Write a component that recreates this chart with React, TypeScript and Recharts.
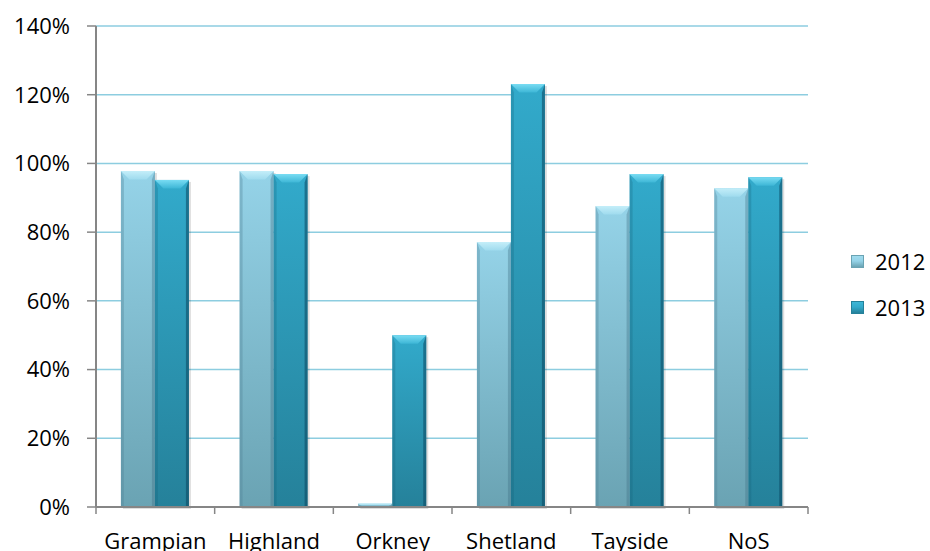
import {Bar, BarChart, CartesianGrid, XAxis, YAxis} from 'recharts';

const regions = ['Grampian', 'Highland', 'Orkney', 'Shetland', 'Tayside', 'NoS'];
const values2012 = [97.8, 97.8, 1, 77.1, 87.6, 92.8];
const values2013 = [95.2, 96.9, 50, 123.1, 96.9, 96];
const percentTicks = [0, 20, 40, 60, 80, 100, 120, 140];

const chartData = regions.map((name, i) => ({
  name,
  y2012: values2012[i],
  y2013: values2013[i],
}));

const palette = {
  y2012: {
    label: '2012',
    top: '#95d3e8',
    bottom: '#6aa3b3',
    bevelTop: '#c4eef9',
    bevelBottom: '#9fdbee',
    edgeLeft: 'rgba(80,130,150,0.35)',
    edgeRight: 'rgba(60,110,130,0.35)',
  },
  y2013: {
    label: '2013',
    top: '#32aacb',
    bottom: '#25819a',
    bevelTop: '#79dcf3',
    bevelBottom: '#3db6d6',
    edgeLeft: 'rgba(20,90,115,0.25)',
    edgeRight: 'rgba(10,70,95,0.55)',
  },
};

type Key = keyof typeof palette;

const font = '"Open Sans", sans-serif';
const axisGray = '#868686';

const makeBar = (key: Key) => (props: any) => {
  const {x, y, width, height} = props;
  if (!height || height <= 0) return <g/>;
  const c = palette[key];
  const b = Math.min(9, height / 2, width / 4);
  const e = Math.min(3, width / 10);
  return (
    <g>
      <rect x={x + 2} y={y + 2} width={width} height={height} fill="rgba(0,0,0,0.13)"/>
      <rect x={x} y={y} width={width} height={height} fill={`url(#body-${key})`}/>
      <polygon
        points={`${x},${y} ${x + e},${y + b} ${x + e},${y + height} ${x},${y + height}`}
        fill={c.edgeLeft}
      />
      <polygon
        points={`${x + width},${y} ${x + width - e},${y + b} ${x + width - e},${y + height} ${x + width},${y + height}`}
        fill={c.edgeRight}
      />
      <polygon
        points={`${x},${y} ${x + width},${y} ${x + width - b},${y + b} ${x + b},${y + b}`}
        fill={`url(#bevel-${key})`}
      />
    </g>
  );
};

// category labels centred, tick marks on the band edges
const CategoryTick = (props: any) => {
  const {x, y, payload, index, width, visibleTicksCount} = props;
  const half = width / visibleTicksCount / 2;
  const last = index === visibleTicksCount - 1;
  return (
    <g>
      <line x1={x - half} x2={x - half} y1={y} y2={y + 7} stroke={axisGray} strokeWidth={1.5}/>
      {last && <line x1={x + half} x2={x + half} y1={y} y2={y + 7} stroke={axisGray} strokeWidth={1.5}/>}
      <text x={x} y={y + 26} dy="0.71em" textAnchor="middle" fill="#000" fontSize={22} fontFamily={font}>
        {payload.value}
      </text>
    </g>
  );
};

const LegendBox = () => (
  <div style={{position: 'absolute', left: 851, top: 238, fontFamily: font, fontSize: 22, color: '#000'}}>
    {(Object.keys(palette) as Key[]).map(key => (
      <div key={key} style={{display: 'flex', alignItems: 'center', height: 46}}>
        <span
          style={{
            display: 'inline-block',
            width: 11,
            height: 11,
            marginRight: 11,
            background: `linear-gradient(${palette[key].bevelBottom}, ${palette[key].top} 45%, ${palette[key].bottom})`,
            border: `1px solid ${palette[key].bottom}`,
          }}
        />
        <span>{palette[key].label}</span>
      </div>
    ))}
  </div>
);

export default function App() {
  return (
    <div style={{width: 930, height: 551, position: 'relative', background: '#fff'}}>
      <style>{'body{margin:0}'}</style>
      <BarChart
        width={930}
        height={551}
        data={chartData}
        margin={{top: 26, right: 122, left: 0, bottom: 0}}
        barCategoryGap="21%"
        barGap={0}
      >
        <defs>
          {(Object.keys(palette) as Key[]).map(key => (
            <linearGradient key={`b${key}`} id={`body-${key}`} x1="0" y1="0" x2="0" y2="1">
              <stop offset="0%" stopColor={palette[key].top}/>
              <stop offset="100%" stopColor={palette[key].bottom}/>
            </linearGradient>
          ))}
          {(Object.keys(palette) as Key[]).map(key => (
            <linearGradient key={`v${key}`} id={`bevel-${key}`} x1="0" y1="0" x2="0" y2="1">
              <stop offset="0%" stopColor={palette[key].bevelTop}/>
              <stop offset="100%" stopColor={palette[key].bevelBottom}/>
            </linearGradient>
          ))}
        </defs>
        <CartesianGrid vertical={false} stroke="#8dcde0" strokeWidth={1.5}/>
        <XAxis
          dataKey="name"
          height={44}
          tickLine={false}
          tickSize={0}
          tickMargin={0}
          axisLine={{stroke: axisGray, strokeWidth: 2}}
          tick={<CategoryTick/>}
          interval={0}
        />
        <YAxis
          width={96}
          domain={[0, 140]}
          ticks={percentTicks}
          tickFormatter={(v: number) => `${v}%`}
          tickSize={9}
          tickMargin={17}
          axisLine={{stroke: axisGray, strokeWidth: 2}}
          tickLine={{stroke: axisGray, strokeWidth: 1.5}}
          tick={{fill: '#000', fontSize: 22, fontFamily: font}}
          interval={0}
        />
        <Bar dataKey="y2012" shape={makeBar('y2012')} isAnimationActive={false}/>
        <Bar dataKey="y2013" shape={makeBar('y2013')} isAnimationActive={false}/>
      </BarChart>
      <LegendBox/>
    </div>
  );
}
